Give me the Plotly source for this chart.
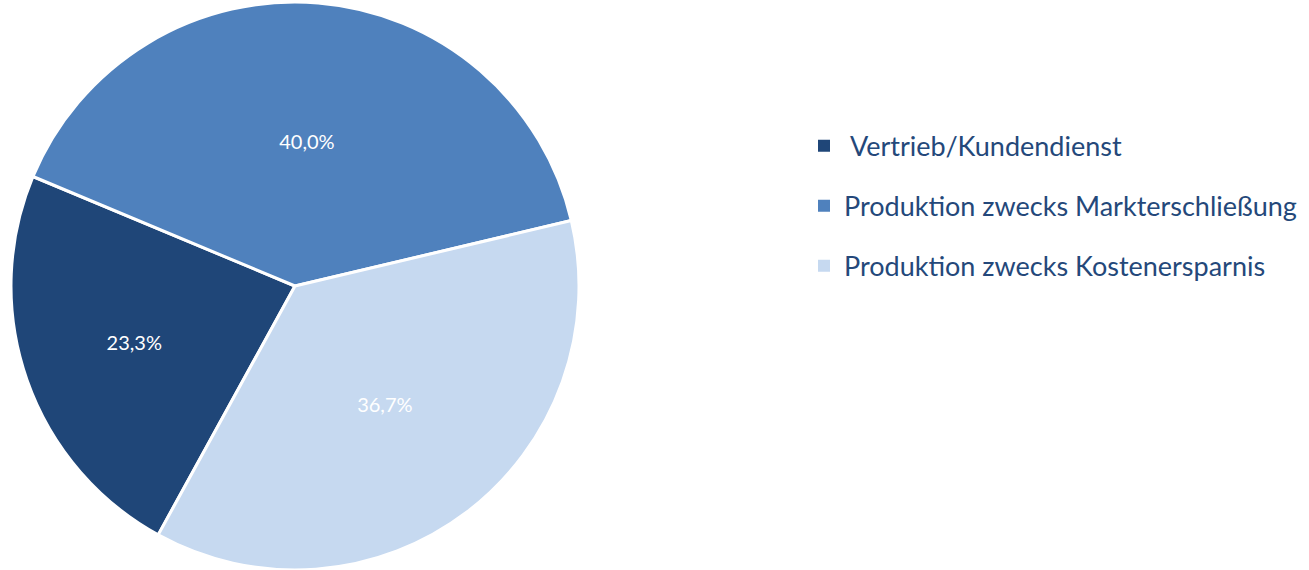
import plotly.graph_objects as go

categories = ["\u00a0Vertrieb/Kundendienst", "Produktion zwecks Markterschließung", "Produktion zwecks Kostenersparnis"]
values = [23.3, 40.0, 36.7]
colors = ["#1F4678", "#4F81BD", "#C6D9F0"]

W, H = 1309, 570
fig = go.Figure()
fig.add_trace(go.Pie(
    labels=categories, values=values, sort=False, direction="clockwise",
    rotation=208.8,
    marker=dict(colors=colors, line=dict(color="white", width=3)),
    texttemplate="%{percent:.1%}", textposition="inside",
    insidetextorientation="horizontal",
    textfont=dict(color="white", size=20, family="Lato"),
    domain=dict(x=[0, 590 / W], y=[0, 1]),
    showlegend=False, hoverinfo="label+percent",
))
for i, (c, col) in enumerate(zip(categories, colors)):
    fig.add_trace(go.Scatter(
        x=[None], y=[None], mode="markers", name=c,
        marker=dict(symbol="square", size=12, color=col),
        legendgroup=f"g{i}", showlegend=True,
    ))

fig.update_layout(
    width=W, height=H, separators=",.",
    margin=dict(l=0, r=0, t=2, b=0),
    paper_bgcolor="white", plot_bgcolor="white",
    xaxis=dict(visible=False), yaxis=dict(visible=False),
    legend=dict(x=804 / W, y=1 - 120 / H, xanchor="left", yanchor="top",
                font=dict(family="Lato", size=27, color="#24487A"),
                tracegroupgap=22, itemwidth=30),
)
fig.write_html("out.html")
